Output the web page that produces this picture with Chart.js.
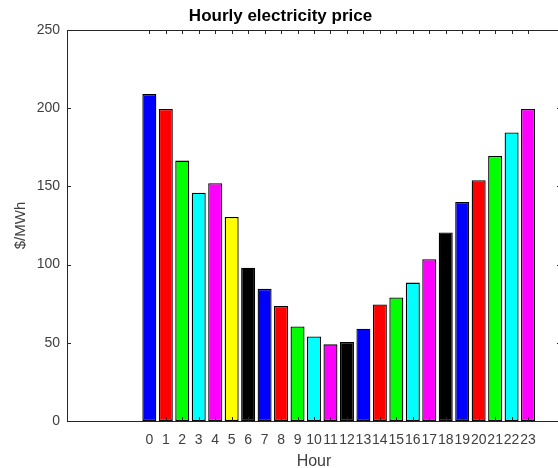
<!DOCTYPE html>
<html>
<head>
<meta charset="utf-8">
<title>Hourly electricity price</title>
<script src="https://cdn.jsdelivr.net/npm/chart.js@4"></script>
<style>
  html, body { margin: 0; padding: 0; background: #fff; overflow: hidden; }
  canvas { display: block; }
</style>
</head>
<body>
<canvas id="chart" width="566" height="468"></canvas>
<script>
// data
const hours = [0, 1, 2, 3, 4, 5, 6, 7, 8, 9, 10, 11, 12, 13, 14, 15, 16, 17, 18, 19, 20, 21, 22, 23];
const prices = [209, 199.5, 166.5, 146, 152, 130.5, 98, 84.5, 73.5, 60.5, 54, 49, 50.5, 59, 74.5, 79, 88.5, 103.5, 120.5, 140, 154, 169.5, 184.5, 199.5];
const barColors = [
  "#0000ff", "#ff0000", "#00ff00", "#00ffff", "#ff00ff", "#ffff00", "#000000",
  "#0000ff", "#ff0000", "#00ff00", "#00ffff", "#ff00ff", "#000000",
  "#0000ff", "#ff0000", "#00ff00", "#00ffff", "#ff00ff", "#000000",
  "#0000ff", "#ff0000", "#00ff00", "#00ffff", "#ff00ff",
];
const yTicks = [0, 50, 100, 150, 200, 250];

const axisColor = "#262626";
const textColor = "#404040";
const fontFamily = "'Liberation Sans', Arial, Helvetica, sans-serif";

// matlab style box: top/right lines and inward ticks on all four sides
const boxTicks = {
  id: "boxTicks",
  afterDatasetsDraw(chart) {
    const { ctx, chartArea: a, scales } = chart;
    const len = 4;
    ctx.save();
    ctx.strokeStyle = axisColor;
    ctx.lineWidth = 1;
    ctx.beginPath();
    ctx.moveTo(a.left, a.top + 0.5);
    ctx.lineTo(a.right, a.top + 0.5);
    ctx.moveTo(a.right - 0.5, a.top);
    ctx.lineTo(a.right - 0.5, a.bottom);
    hours.forEach((h) => {
      const x = Math.round(scales.x.getPixelForValue(h)) + 0.5;
      ctx.moveTo(x, a.bottom);
      ctx.lineTo(x, a.bottom - len);
      ctx.moveTo(x, a.top);
      ctx.lineTo(x, a.top + len);
    });
    yTicks.forEach((v) => {
      const y = Math.round(scales.y.getPixelForValue(v)) + 0.5;
      ctx.moveTo(a.left, y);
      ctx.lineTo(a.left + len, y);
      ctx.moveTo(a.right, y);
      ctx.lineTo(a.right - len, y);
    });
    ctx.stroke();
    ctx.restore();
  },
};

new Chart(document.getElementById("chart"), {
  type: "bar",
  data: {
    datasets: [
      {
        data: hours.map((h, i) => ({ x: h, y: prices[i] })),
        backgroundColor: barColors,
        borderColor: "#000",
        borderWidth: 1.3,
        borderSkipped: false,
        barPercentage: 0.85,
        categoryPercentage: 1,
      },
    ],
  },
  options: {
    responsive: false,
    animation: false,
    layout: { padding: { left: 0, right: 5, top: 0, bottom: 0 } },
    plugins: {
      legend: { display: false },
      tooltip: { enabled: false },
      title: {
        display: true,
        text: "Hourly electricity price",
        color: "#000",
        font: { family: fontFamily, size: 17, weight: "bold", lineHeight: 1.2 },
        padding: { top: 6, bottom: 3.6 },
      },
    },
    scales: {
      x: {
        type: "linear",
        min: -5,
        max: 25,
        offset: false,
        afterBuildTicks(axis) {
          axis.ticks = hours.map((h) => ({ value: h }));
        },
        afterFit(scale) {
          scale.height = 47;
        },
        ticks: {
          autoSkip: false,
          maxRotation: 0,
          padding: 11,
          color: textColor,
          font: { family: fontFamily, size: 14 },
          callback: (v) => String(v),
        },
        grid: { display: false, drawTicks: false },
        border: { display: true, color: axisColor, width: 1 },
        title: {
          display: true,
          text: "Hour",
          color: textColor,
          font: { family: fontFamily, size: 16, lineHeight: 0.75 },
          padding: { top: 0, bottom: 0 },
        },
      },
      y: {
        min: 0,
        max: 250,
        afterBuildTicks(axis) {
          axis.ticks = yTicks.map((v) => ({ value: v }));
        },
        afterFit(scale) {
          scale.width = 67;
        },
        ticks: {
          padding: 7,
          color: textColor,
          font: { family: fontFamily, size: 14 },
        },
        grid: { display: false, drawTicks: false },
        border: { display: true, color: axisColor, width: 1 },
        title: {
          display: true,
          text: "$/MWh",
          color: textColor,
          font: { family: fontFamily, size: 15, lineHeight: 1.2 },
          padding: { top: 12, bottom: 0 },
        },
      },
    },
  },
  plugins: [boxTicks],
});
</script>
</body>
</html>
